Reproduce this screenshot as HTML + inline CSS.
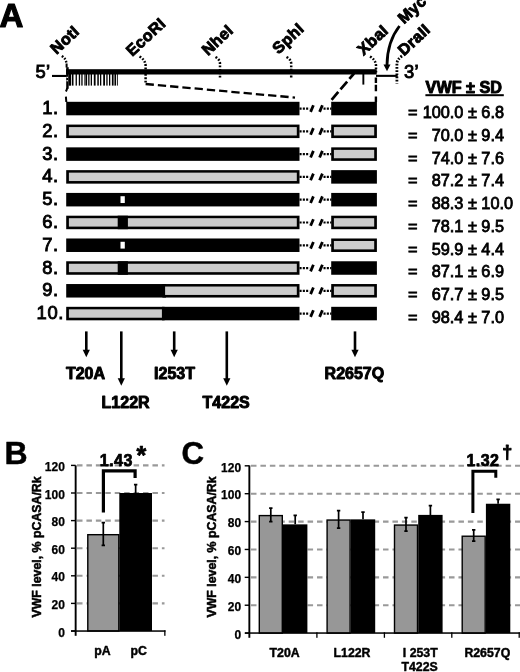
<!DOCTYPE html>
<html><head><meta charset="utf-8"><title>Figure</title>
<style>html,body{margin:0;padding:0;background:#fff}body{width:520px;height:672px;overflow:hidden}svg{display:block;filter:blur(0.4px)}text{font-family:"Liberation Sans",Arial,sans-serif;fill:#000}.b{font-weight:bold;stroke:#000;stroke-width:0.75px;stroke-linejoin:round}</style>
</head><body>
<svg width="520" height="672" viewBox="0 0 520 672">
<rect width="520" height="672" fill="#fff"/>
<text class="b" x="-0.5" y="27.4" font-size="33" style="stroke-width:1.2px">A</text>
<rect x="66" y="69.2" width="310.7" height="5.3" fill="#000"/>
<rect x="52" y="74.9" width="14.9" height="2.1" fill="#000"/>
<rect x="66.2" y="67.2" width="2.5" height="21.6" fill="#000"/>
<rect x="68.6" y="74" width="2.5" height="11.7" fill="#000"/>
<rect x="66.4" y="76.8" width="1.6" height="1.1" fill="#fff"/>
<rect x="66.4" y="80.2" width="1.6" height="1.1" fill="#fff"/>
<rect x="376" y="74.8" width="21.7" height="2.1" fill="#000"/>
<text x="35.4" y="77.7" font-size="18.4" stroke="#000" stroke-width="0.9" letter-spacing="0.5">5’</text>
<text x="403.9" y="77.7" font-size="18.4" stroke="#000" stroke-width="0.9" letter-spacing="0.5">3’</text>
<rect x="71.9" y="74" width="1.6" height="11.6" fill="#000"/>
<rect x="75.6" y="74" width="1.3" height="11.6" fill="#000"/>
<rect x="78.8" y="74" width="1.3" height="11.6" fill="#000"/>
<rect x="81.3" y="74" width="1.3" height="11.6" fill="#000"/>
<rect x="84.4" y="74" width="1.2" height="11.6" fill="#000"/>
<rect x="85.9" y="74" width="1.2" height="11.6" fill="#000"/>
<rect x="88.2" y="74" width="1.3" height="11.6" fill="#000"/>
<rect x="90.7" y="74" width="1.3" height="11.6" fill="#000"/>
<rect x="93.8" y="74" width="1.8" height="11.6" fill="#000"/>
<rect x="97.3" y="74" width="1.5" height="11.6" fill="#000"/>
<rect x="100" y="74" width="1.3" height="11.6" fill="#000"/>
<rect x="103.2" y="74" width="1.8" height="11.6" fill="#000"/>
<rect x="106.3" y="74" width="1.3" height="11.6" fill="#000"/>
<rect x="109" y="74" width="1.3" height="11.6" fill="#000"/>
<rect x="111.9" y="74" width="1.1" height="11.6" fill="#000"/>
<rect x="113.4" y="74" width="1.1" height="11.6" fill="#000"/>
<rect x="114.9" y="74" width="1.1" height="11.6" fill="#000"/>
<rect x="116.9" y="74" width="0.9" height="11.6" fill="#000"/>
<path d="M66.6 63.5 V67.6 M67.2 88 Q66.8 90 65.9 91.6 M65.9 96.6 L66.3 102" stroke="#000" stroke-width="2" fill="none"/>
<path d="M61.8 56 Q66.4 59 66.5 64" stroke="#000" stroke-width="2.4" stroke-dasharray="1.7 1.5" fill="none"/>
<path d="M139.5 56.5 Q145.6 60 145.6 66 V84" stroke="#000" stroke-width="2.5" stroke-dasharray="1.8 1.5" fill="none"/>
<path d="M145.6 84 L295 97.6" stroke="#000" stroke-width="2.3" stroke-dasharray="8.3 4" fill="none"/>
<path d="M215.5 57 Q220 59.5 220 64 V79" stroke="#000" stroke-width="2.5" stroke-dasharray="1.8 1.6" fill="none"/>
<path d="M286.5 57 Q291.2 59.5 291.2 64 V79" stroke="#000" stroke-width="2.5" stroke-dasharray="1.8 1.6" fill="none"/>
<path d="M370 56.5 Q376 60 376 66 V74" stroke="#000" stroke-width="2.5" stroke-dasharray="1.8 1.5" fill="none"/>
<path d="M375.9 77.5 V83 M375.9 84.8 V91.2 M375.9 96.6 V102" stroke="#000" stroke-width="2.4" fill="none"/>
<path d="M331.6 99.8 L354 73.5" stroke="#000" stroke-width="2.7" stroke-dasharray="10.3 3.4" fill="none"/>
<rect x="362.4" y="74" width="1.9" height="10.6" fill="#000"/>
<path d="M402 56 Q396.9 59.5 396.9 64 V83.6" stroke="#000" stroke-width="2.8" stroke-dasharray="1.7 1.5" fill="none"/>
<path d="M399.5 26 C392.5 35 387.2 47 387 65" stroke="#000" stroke-width="2.8" fill="none"/>
<path d="M383.5 64.4 L390.5 64.4 L387 71.3 Z" fill="#000"/>
<text class="b" font-size="16" style="stroke-width:0.9px;letter-spacing:0.35px" transform="translate(56.6 54.9) rotate(-43)">NotI</text>
<text class="b" font-size="16" style="stroke-width:0.9px;letter-spacing:0.35px" transform="translate(132.3 57) rotate(-43)">EcoRI</text>
<text class="b" font-size="16" style="stroke-width:0.9px;letter-spacing:0.35px" transform="translate(207.9 56.3) rotate(-43)">NheI</text>
<text class="b" font-size="16" style="stroke-width:0.9px;letter-spacing:0.35px" transform="translate(278.6 54.7) rotate(-43)">SphI</text>
<text class="b" font-size="16" style="stroke-width:0.9px;letter-spacing:0.35px" transform="translate(363.5 56) rotate(-43)">XbaI</text>
<text class="b" font-size="16" style="stroke-width:0.9px;letter-spacing:0.35px" transform="translate(404 24.5) rotate(-43)">Myc</text>
<text class="b" font-size="16" style="stroke-width:0.9px;letter-spacing:0.35px" transform="translate(404 56.5) rotate(-43)">DraII</text>
<rect x="66.2" y="101.80" width="233.30" height="13.5" fill="#000"/>
<rect x="331.2" y="101.80" width="45.70" height="13.5" fill="#000"/>
<path d="M299.5 108.60 H309.5 M323.5 108.60 H331.5" stroke="#000" stroke-width="2.2" stroke-dasharray="2.1 1.2" fill="none"/>
<path d="M310.6 111.90 L313.4 105.30 M319.6 111.90 L322.4 105.30" stroke="#000" stroke-width="2.8" fill="none"/>
<text x="42.3" y="114.10" font-size="18.4" stroke="#000" stroke-width="0.9" letter-spacing="0.6">1.</text>
<text x="408" y="118.00" font-size="16.3" stroke="#000" stroke-width="0.8">=</text>
<text x="463.4" y="118.00" font-size="16.3" text-anchor="end" stroke="#000" stroke-width="0.8">100.0</text>
<text x="467.9" y="118.00" font-size="16.3" stroke="#000" stroke-width="0.8">± 6.8</text>
<rect x="66.2" y="124.58" width="233.30" height="13.5" fill="#000"/>
<rect x="68.9" y="127.08" width="227.90" height="8.4" fill="#cccccc"/>
<rect x="331.2" y="124.58" width="45.70" height="13.5" fill="#000"/>
<rect x="333.9" y="127.08" width="40.30" height="8.4" fill="#cccccc"/>
<path d="M299.5 131.38 H309.5 M323.5 131.38 H331.5" stroke="#000" stroke-width="2.2" stroke-dasharray="2.1 1.2" fill="none"/>
<path d="M310.6 134.68 L313.4 128.08 M319.6 134.68 L322.4 128.08" stroke="#000" stroke-width="2.8" fill="none"/>
<text x="42.3" y="136.88" font-size="18.4" stroke="#000" stroke-width="0.9" letter-spacing="0.6">2.</text>
<text x="408" y="140.78" font-size="16.3" stroke="#000" stroke-width="0.8">=</text>
<text x="463.4" y="140.78" font-size="16.3" text-anchor="end" stroke="#000" stroke-width="0.8">70.0</text>
<text x="467.9" y="140.78" font-size="16.3" stroke="#000" stroke-width="0.8">± 9.4</text>
<rect x="66.2" y="147.36" width="233.30" height="13.5" fill="#000"/>
<rect x="331.2" y="147.36" width="45.70" height="13.5" fill="#000"/>
<rect x="333.9" y="149.86" width="40.30" height="8.4" fill="#cccccc"/>
<path d="M299.5 154.16 H309.5 M323.5 154.16 H331.5" stroke="#000" stroke-width="2.2" stroke-dasharray="2.1 1.2" fill="none"/>
<path d="M310.6 157.46 L313.4 150.86 M319.6 157.46 L322.4 150.86" stroke="#000" stroke-width="2.8" fill="none"/>
<text x="42.3" y="159.66" font-size="18.4" stroke="#000" stroke-width="0.9" letter-spacing="0.6">3.</text>
<text x="408" y="163.56" font-size="16.3" stroke="#000" stroke-width="0.8">=</text>
<text x="463.4" y="163.56" font-size="16.3" text-anchor="end" stroke="#000" stroke-width="0.8">74.0</text>
<text x="467.9" y="163.56" font-size="16.3" stroke="#000" stroke-width="0.8">± 7.6</text>
<rect x="66.2" y="170.14" width="233.30" height="13.5" fill="#000"/>
<rect x="68.9" y="172.64" width="227.90" height="8.4" fill="#cccccc"/>
<rect x="331.2" y="170.14" width="45.70" height="13.5" fill="#000"/>
<path d="M299.5 176.94 H309.5 M323.5 176.94 H331.5" stroke="#000" stroke-width="2.2" stroke-dasharray="2.1 1.2" fill="none"/>
<path d="M310.6 180.24 L313.4 173.64 M319.6 180.24 L322.4 173.64" stroke="#000" stroke-width="2.8" fill="none"/>
<text x="42.3" y="182.44" font-size="18.4" stroke="#000" stroke-width="0.9" letter-spacing="0.6">4.</text>
<text x="408" y="186.34" font-size="16.3" stroke="#000" stroke-width="0.8">=</text>
<text x="463.4" y="186.34" font-size="16.3" text-anchor="end" stroke="#000" stroke-width="0.8">87.2</text>
<text x="467.9" y="186.34" font-size="16.3" stroke="#000" stroke-width="0.8">± 7.4</text>
<rect x="66.2" y="192.92" width="233.30" height="13.5" fill="#000"/>
<rect x="120.5" y="196.22" width="4.3" height="6.8" fill="#fff"/>
<rect x="331.2" y="192.92" width="45.70" height="13.5" fill="#000"/>
<path d="M299.5 199.72 H309.5 M323.5 199.72 H331.5" stroke="#000" stroke-width="2.2" stroke-dasharray="2.1 1.2" fill="none"/>
<path d="M310.6 203.02 L313.4 196.42 M319.6 203.02 L322.4 196.42" stroke="#000" stroke-width="2.8" fill="none"/>
<text x="42.3" y="205.22" font-size="18.4" stroke="#000" stroke-width="0.9" letter-spacing="0.6">5.</text>
<text x="408" y="209.12" font-size="16.3" stroke="#000" stroke-width="0.8">=</text>
<text x="463.4" y="209.12" font-size="16.3" text-anchor="end" stroke="#000" stroke-width="0.8">88.3</text>
<text x="467.9" y="209.12" font-size="16.3" stroke="#000" stroke-width="0.8">± 10.0</text>
<rect x="66.2" y="215.70" width="233.30" height="13.5" fill="#000"/>
<rect x="68.9" y="218.20" width="227.90" height="8.4" fill="#cccccc"/>
<rect x="117.7" y="215.70" width="10.2" height="13.5" fill="#000"/>
<rect x="331.2" y="215.70" width="45.70" height="13.5" fill="#000"/>
<rect x="333.9" y="218.20" width="40.30" height="8.4" fill="#cccccc"/>
<path d="M299.5 222.50 H309.5 M323.5 222.50 H331.5" stroke="#000" stroke-width="2.2" stroke-dasharray="2.1 1.2" fill="none"/>
<path d="M310.6 225.80 L313.4 219.20 M319.6 225.80 L322.4 219.20" stroke="#000" stroke-width="2.8" fill="none"/>
<text x="42.3" y="228.00" font-size="18.4" stroke="#000" stroke-width="0.9" letter-spacing="0.6">6.</text>
<text x="408" y="231.90" font-size="16.3" stroke="#000" stroke-width="0.8">=</text>
<text x="463.4" y="231.90" font-size="16.3" text-anchor="end" stroke="#000" stroke-width="0.8">78.1</text>
<text x="467.9" y="231.90" font-size="16.3" stroke="#000" stroke-width="0.8">± 9.5</text>
<rect x="66.2" y="238.48" width="233.30" height="13.5" fill="#000"/>
<rect x="120.5" y="241.78" width="4.3" height="6.8" fill="#fff"/>
<rect x="331.2" y="238.48" width="45.70" height="13.5" fill="#000"/>
<rect x="333.9" y="240.98" width="40.30" height="8.4" fill="#cccccc"/>
<path d="M299.5 245.28 H309.5 M323.5 245.28 H331.5" stroke="#000" stroke-width="2.2" stroke-dasharray="2.1 1.2" fill="none"/>
<path d="M310.6 248.58 L313.4 241.98 M319.6 248.58 L322.4 241.98" stroke="#000" stroke-width="2.8" fill="none"/>
<text x="42.3" y="250.78" font-size="18.4" stroke="#000" stroke-width="0.9" letter-spacing="0.6">7.</text>
<text x="408" y="254.68" font-size="16.3" stroke="#000" stroke-width="0.8">=</text>
<text x="463.4" y="254.68" font-size="16.3" text-anchor="end" stroke="#000" stroke-width="0.8">59.9</text>
<text x="467.9" y="254.68" font-size="16.3" stroke="#000" stroke-width="0.8">± 4.4</text>
<rect x="66.2" y="261.26" width="233.30" height="13.5" fill="#000"/>
<rect x="68.9" y="263.76" width="227.90" height="8.4" fill="#cccccc"/>
<rect x="117.7" y="261.26" width="10.2" height="13.5" fill="#000"/>
<rect x="331.2" y="261.26" width="45.70" height="13.5" fill="#000"/>
<path d="M299.5 268.06 H309.5 M323.5 268.06 H331.5" stroke="#000" stroke-width="2.2" stroke-dasharray="2.1 1.2" fill="none"/>
<path d="M310.6 271.36 L313.4 264.76 M319.6 271.36 L322.4 264.76" stroke="#000" stroke-width="2.8" fill="none"/>
<text x="42.3" y="273.56" font-size="18.4" stroke="#000" stroke-width="0.9" letter-spacing="0.6">8.</text>
<text x="408" y="277.46" font-size="16.3" stroke="#000" stroke-width="0.8">=</text>
<text x="463.4" y="277.46" font-size="16.3" text-anchor="end" stroke="#000" stroke-width="0.8">87.1</text>
<text x="467.9" y="277.46" font-size="16.3" stroke="#000" stroke-width="0.8">± 6.9</text>
<rect x="66.2" y="284.04" width="99.80" height="13.5" fill="#000"/>
<rect x="162.4" y="284.04" width="137.10" height="13.5" fill="#000"/>
<rect x="165.1" y="286.54" width="131.70" height="8.4" fill="#cccccc"/>
<rect x="331.2" y="284.04" width="45.70" height="13.5" fill="#000"/>
<rect x="333.9" y="286.54" width="40.30" height="8.4" fill="#cccccc"/>
<path d="M299.5 290.84 H309.5 M323.5 290.84 H331.5" stroke="#000" stroke-width="2.2" stroke-dasharray="2.1 1.2" fill="none"/>
<path d="M310.6 294.14 L313.4 287.54 M319.6 294.14 L322.4 287.54" stroke="#000" stroke-width="2.8" fill="none"/>
<text x="42.3" y="296.34" font-size="18.4" stroke="#000" stroke-width="0.9" letter-spacing="0.6">9.</text>
<text x="408" y="300.24" font-size="16.3" stroke="#000" stroke-width="0.8">=</text>
<text x="463.4" y="300.24" font-size="16.3" text-anchor="end" stroke="#000" stroke-width="0.8">67.7</text>
<text x="467.9" y="300.24" font-size="16.3" stroke="#000" stroke-width="0.8">± 9.5</text>
<rect x="66.2" y="306.82" width="98.40" height="13.5" fill="#000"/>
<rect x="68.9" y="309.32" width="93.00" height="8.4" fill="#cccccc"/>
<rect x="162" y="306.82" width="137.50" height="13.5" fill="#000"/>
<rect x="331.2" y="306.82" width="45.70" height="13.5" fill="#000"/>
<path d="M299.5 313.62 H309.5 M323.5 313.62 H331.5" stroke="#000" stroke-width="2.2" stroke-dasharray="2.1 1.2" fill="none"/>
<path d="M310.6 316.92 L313.4 310.32 M319.6 316.92 L322.4 310.32" stroke="#000" stroke-width="2.8" fill="none"/>
<text x="36.6" y="319.12" font-size="18.4" stroke="#000" stroke-width="0.9" letter-spacing="0.6">10.</text>
<text x="408" y="323.02" font-size="16.3" stroke="#000" stroke-width="0.8">=</text>
<text x="463.4" y="323.02" font-size="16.3" text-anchor="end" stroke="#000" stroke-width="0.8">98.4</text>
<text x="467.9" y="323.02" font-size="16.3" stroke="#000" stroke-width="0.8">± 7.0</text>
<text class="b" x="425.6" y="93" font-size="16.2" style="stroke-width:0.95px">VWF ± SD</text>
<rect x="425.4" y="94.2" width="78.4" height="2" fill="#000"/>
<rect x="85.00" y="331.4" width="2.6" height="20.900000000000034" fill="#000"/>
<path d="M82.70 349.8 L89.90 349.8 L86.30 357.3 Z" fill="#000"/>
<rect x="120.00" y="331.4" width="2.6" height="49.30000000000001" fill="#000"/>
<path d="M117.70 378.2 L124.90 378.2 L121.30 385.7 Z" fill="#000"/>
<rect x="172.90" y="331.4" width="2.6" height="20.900000000000034" fill="#000"/>
<path d="M170.60 349.8 L177.80 349.8 L174.20 357.3 Z" fill="#000"/>
<rect x="225.50" y="331.4" width="2.6" height="49.30000000000001" fill="#000"/>
<path d="M223.20 378.2 L230.40 378.2 L226.80 385.7 Z" fill="#000"/>
<rect x="353.70" y="331.4" width="2.6" height="20.900000000000034" fill="#000"/>
<path d="M351.40 349.8 L358.60 349.8 L355.00 357.3 Z" fill="#000"/>
<text class="b" x="65.9" y="378.5" font-size="16" text-anchor="start" style="stroke-width:0.95px">T20A</text>
<text class="b" x="154.1" y="378.5" font-size="16" text-anchor="start" style="stroke-width:0.95px">I253T</text>
<text class="b" x="324.6" y="378.5" font-size="16" text-anchor="start" style="stroke-width:0.95px">R2657Q</text>
<text class="b" x="101.6" y="407.5" font-size="16" text-anchor="start" style="stroke-width:0.95px">L122R</text>
<text class="b" x="202.6" y="407.5" font-size="16" text-anchor="start" style="stroke-width:0.95px">T422S</text>
<text class="b" x="4.6" y="463.6" font-size="32" text-anchor="start" style="stroke-width:0.5px">B</text>
<path d="M77 603.40 H164.5" stroke="#999999" stroke-width="2.1" stroke-dasharray="5.5 3.93" fill="none"/>
<path d="M77 575.80 H164.5" stroke="#999999" stroke-width="2.1" stroke-dasharray="5.5 3.93" fill="none"/>
<path d="M77 548.20 H164.5" stroke="#999999" stroke-width="2.1" stroke-dasharray="5.5 3.93" fill="none"/>
<path d="M77 520.60 H164.5" stroke="#999999" stroke-width="2.1" stroke-dasharray="5.5 3.93" fill="none"/>
<path d="M77 493.00 H164.5" stroke="#999999" stroke-width="2.1" stroke-dasharray="5.5 3.93" fill="none"/>
<path d="M77 465.40 H164.5" stroke="#999999" stroke-width="2.1" stroke-dasharray="5.5 3.93" fill="none"/>
<rect x="71.0" y="630.30" width="4.6" height="1.4" fill="#000"/>
<text class="b" x="64.9" y="636.50" font-size="12" text-anchor="end" style="stroke-width:0.25px">0</text>
<rect x="71.0" y="602.70" width="4.6" height="1.4" fill="#000"/>
<text class="b" x="64.9" y="608.90" font-size="12" text-anchor="end" style="stroke-width:0.25px">20</text>
<rect x="71.0" y="575.10" width="4.6" height="1.4" fill="#000"/>
<text class="b" x="64.9" y="581.30" font-size="12" text-anchor="end" style="stroke-width:0.25px">40</text>
<rect x="71.0" y="547.50" width="4.6" height="1.4" fill="#000"/>
<text class="b" x="64.9" y="553.70" font-size="12" text-anchor="end" style="stroke-width:0.25px">60</text>
<rect x="71.0" y="519.90" width="4.6" height="1.4" fill="#000"/>
<text class="b" x="64.9" y="526.10" font-size="12" text-anchor="end" style="stroke-width:0.25px">80</text>
<rect x="71.0" y="492.30" width="4.6" height="1.4" fill="#000"/>
<text class="b" x="64.9" y="498.50" font-size="12" text-anchor="end" style="stroke-width:0.25px">100</text>
<rect x="71.0" y="464.70" width="4.6" height="1.4" fill="#000"/>
<text class="b" x="64.9" y="470.90" font-size="12" text-anchor="end" style="stroke-width:0.25px">120</text>
<text class="b" font-size="12.33" style="stroke-width:0.5px" transform="translate(40.9 617.5) rotate(-90)">VWF level, % pCASA/Rk</text>
<rect x="87.80" y="534.69" width="31.00" height="96.31" fill="#979797" stroke="#000" stroke-width="1.4"/>
<path d="M103.30 522.67 V545.30 M101.60 522.67 H105.00 M101.60 545.30 H105.00" stroke="#000" stroke-width="1.7" fill="none"/>
<rect x="119.30" y="493.00" width="32.70" height="138.00" fill="#000"/>
<path d="M135.65 484.58 V493.00 M133.95 484.58 H137.35" stroke="#000" stroke-width="1.7" fill="none"/>
<rect x="74.7" y="465.4" width="1.9" height="170.4" fill="#000"/>
<rect x="71" y="630.3" width="94.5" height="1.5" fill="#000"/>
<rect x="164.2" y="630.3" width="1.3" height="5.5" fill="#000"/>
<text class="b" x="94.2" y="655.2" font-size="12.3" text-anchor="start" style="stroke-width:0.45px">pA</text>
<text class="b" x="130.4" y="655.0" font-size="12.3" text-anchor="start" style="stroke-width:0.45px">pC</text>
<path d="M103.4 512.6 V470.9 H135.1 V478" stroke="#000" stroke-width="3.2" fill="none"/>
<text class="b" x="99.8" y="465.8" font-size="16" text-anchor="start" letter-spacing="0.45">1.43</text>
<text class="b" x="136.5" y="463.5" font-size="25" text-anchor="start" >*</text>
<text class="b" x="181.4" y="463.5" font-size="31.2" text-anchor="start" style="stroke-width:0.5px">C</text>
<path d="M251 605.22 H520" stroke="#999999" stroke-width="2.1" stroke-dasharray="5.5 3.93" fill="none"/>
<path d="M251 577.34 H520" stroke="#999999" stroke-width="2.1" stroke-dasharray="5.5 3.93" fill="none"/>
<path d="M251 549.46 H520" stroke="#999999" stroke-width="2.1" stroke-dasharray="5.5 3.93" fill="none"/>
<path d="M251 521.58 H520" stroke="#999999" stroke-width="2.1" stroke-dasharray="5.5 3.93" fill="none"/>
<path d="M251 493.70 H520" stroke="#999999" stroke-width="2.1" stroke-dasharray="5.5 3.93" fill="none"/>
<path d="M251 465.82 H520" stroke="#999999" stroke-width="2.1" stroke-dasharray="5.5 3.93" fill="none"/>
<rect x="244.70000000000002" y="632.40" width="4.6" height="1.4" fill="#000"/>
<text class="b" x="241.1" y="638.80" font-size="12" text-anchor="end" style="stroke-width:0.25px">0</text>
<rect x="244.70000000000002" y="604.52" width="4.6" height="1.4" fill="#000"/>
<text class="b" x="241.1" y="610.92" font-size="12" text-anchor="end" style="stroke-width:0.25px">20</text>
<rect x="244.70000000000002" y="576.64" width="4.6" height="1.4" fill="#000"/>
<text class="b" x="241.1" y="583.04" font-size="12" text-anchor="end" style="stroke-width:0.25px">40</text>
<rect x="244.70000000000002" y="548.76" width="4.6" height="1.4" fill="#000"/>
<text class="b" x="241.1" y="555.16" font-size="12" text-anchor="end" style="stroke-width:0.25px">60</text>
<rect x="244.70000000000002" y="520.88" width="4.6" height="1.4" fill="#000"/>
<text class="b" x="241.1" y="527.28" font-size="12" text-anchor="end" style="stroke-width:0.25px">80</text>
<rect x="244.70000000000002" y="493.00" width="4.6" height="1.4" fill="#000"/>
<text class="b" x="241.1" y="499.40" font-size="12" text-anchor="end" style="stroke-width:0.25px">100</text>
<rect x="244.70000000000002" y="465.12" width="4.6" height="1.4" fill="#000"/>
<text class="b" x="241.1" y="471.52" font-size="12" text-anchor="end" style="stroke-width:0.25px">120</text>
<text class="b" font-size="12.33" style="stroke-width:0.5px" transform="translate(215.6 617.5) rotate(-90)">VWF level, % pCASA/Rk</text>
<rect x="259.30" y="515.59" width="23.00" height="117.51" fill="#979797" stroke="#000" stroke-width="1.4"/>
<path d="M270.80 508.20 V521.58 M269.10 508.20 H272.50 M269.10 521.58 H272.50" stroke="#000" stroke-width="1.7" fill="none"/>
<rect x="283.00" y="524.37" width="24.40" height="108.73" fill="#000"/>
<path d="M295.20 515.31 V524.37 M293.50 515.31 H296.90" stroke="#000" stroke-width="1.7" fill="none"/>
<rect x="327.10" y="520.05" width="23.00" height="113.05" fill="#979797" stroke="#000" stroke-width="1.4"/>
<path d="M338.60 510.57 V528.13 M336.90 510.57 H340.30 M336.90 528.13 H340.30" stroke="#000" stroke-width="1.7" fill="none"/>
<rect x="350.80" y="519.35" width="24.40" height="113.75" fill="#000"/>
<path d="M363.00 512.10 V519.35 M361.30 512.10 H364.70" stroke="#000" stroke-width="1.7" fill="none"/>
<rect x="394.50" y="525.07" width="23.00" height="108.03" fill="#979797" stroke="#000" stroke-width="1.4"/>
<path d="M406.00 517.68 V531.06 M404.30 517.68 H407.70 M404.30 531.06 H407.70" stroke="#000" stroke-width="1.7" fill="none"/>
<rect x="418.20" y="514.89" width="24.40" height="118.21" fill="#000"/>
<path d="M430.40 505.69 V514.89 M428.70 505.69 H432.10" stroke="#000" stroke-width="1.7" fill="none"/>
<rect x="462.20" y="536.22" width="23.00" height="96.88" fill="#979797" stroke="#000" stroke-width="1.4"/>
<path d="M473.70 529.94 V541.10 M472.00 529.94 H475.40 M472.00 541.10 H475.40" stroke="#000" stroke-width="1.7" fill="none"/>
<rect x="485.90" y="503.74" width="24.40" height="129.36" fill="#000"/>
<path d="M498.10 499.28 V503.74 M496.40 499.28 H499.80" stroke="#000" stroke-width="1.7" fill="none"/>
<rect x="248.4" y="465.4" width="1.9" height="172.4" fill="#000"/>
<rect x="245" y="632.3" width="275" height="1.5" fill="#000"/>
<rect x="316.25" y="632.3" width="1.3" height="5.5" fill="#000"/>
<rect x="383.75" y="632.3" width="1.3" height="5.5" fill="#000"/>
<rect x="451.15000000000003" y="632.3" width="1.3" height="5.5" fill="#000"/>
<rect x="518.5500000000001" y="632.3" width="1.3" height="5.5" fill="#000"/>
<text class="b" x="284.6" y="656.6" font-size="12.3" text-anchor="middle" style="stroke-width:0.45px">T20A</text>
<text class="b" x="352" y="656.6" font-size="12.3" text-anchor="middle" style="stroke-width:0.45px">L122R</text>
<text class="b" x="420.3" y="656.6" font-size="12.3" text-anchor="middle" style="stroke-width:0.45px">I 253T</text>
<text class="b" x="419.6" y="671.4" font-size="12.3" text-anchor="middle" style="stroke-width:0.45px">T422S</text>
<text class="b" x="487.3" y="656.6" font-size="12.3" text-anchor="middle" style="stroke-width:0.45px">R2657Q</text>
<path d="M472.9 513 V471.3 H495.8 V477.8" stroke="#000" stroke-width="3" fill="none"/>
<text class="b" x="466.4" y="466.2" font-size="16" text-anchor="start" letter-spacing="0.45">1.32</text>
<text class="b" x="502.3" y="458.2" font-size="18" text-anchor="start" style="stroke-width:0.9px">†</text>
</svg></body></html>
